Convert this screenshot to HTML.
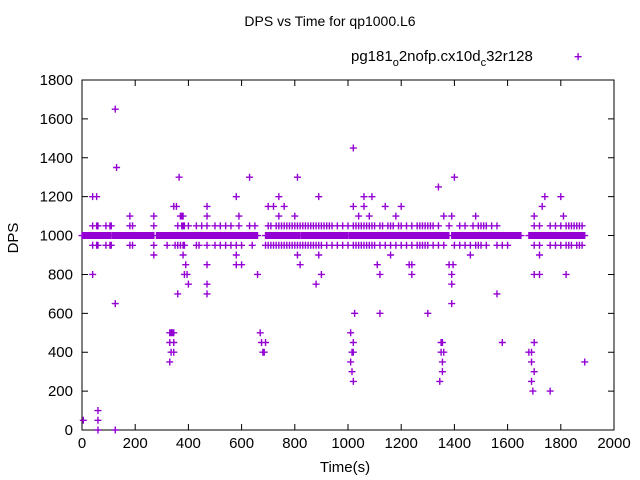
<!DOCTYPE html>
<html><head><meta charset="utf-8"><style>
body{margin:0;background:#fff}
svg{display:block;font-family:"Liberation Sans",sans-serif}
</style></head><body>
<svg id="chart" width="640" height="480">
<rect width="640" height="480" fill="#fff"/>
<text x="330" y="26" font-size="14" text-anchor="middle">DPS vs Time for qp1000.L6</text>
<text x="345" y="472" font-size="15" text-anchor="middle">Time(s)</text>
<text x="18" y="238" font-size="15" text-anchor="middle" transform="rotate(-90 18 238)">DPS</text>
<g id="axes"></g>
<g id="marks"></g>
<g>
<text x="351" y="61" font-size="15">pg181<tspan font-size="11" dy="5">o</tspan><tspan dy="-5">2nofp.cx10d</tspan><tspan font-size="11" dy="5">c</tspan><tspan dy="-5">32r128</tspan></text>
</g>
</svg>
<script>
const xTicks=[0,200,400,600,800,1000,1200,1400,1600,1800,2000];
const yTicks=[0,200,400,600,800,1000,1200,1400,1600,1800];
const bandRanges=[[0,40],[45,110],[115,200],[200,270],[280,660],[690,740],[745,820],[825,1000],[1005,1380],[1390,1650],[1680,1890]];
const t1050=[40,55,60,90,105,110,180,190,270,360,375,380,385,430,450,470,500,520,540,560,590,630,650,700,710,730,740,750,760,770,780,790,800,810,820,830,840,850,860,870,880,890,900,910,920,930,940,960,980,1000,1020,1030,1040,1050,1060,1070,1080,1090,1100,1120,1130,1150,1160,1170,1190,1200,1220,1240,1260,1270,1280,1290,1300,1310,1320,1340,1380,1420,1440,1470,1490,1500,1510,1520,1540,1560,1700,1720,1760,1780,1800,1820,1830,1840,1850,1860,1870,1880];
const t950=[40,55,60,90,105,110,180,190,270,320,350,360,370,380,385,430,440,470,500,520,540,560,580,600,640,690,700,710,720,730,740,750,760,770,780,790,800,810,820,830,840,850,860,870,880,890,900,920,940,960,980,1000,1020,1030,1040,1050,1060,1070,1080,1090,1100,1120,1140,1160,1180,1200,1220,1240,1260,1270,1280,1290,1300,1320,1340,1360,1400,1420,1440,1460,1480,1490,1500,1520,1560,1580,1600,1700,1720,1760,1780,1800,1820,1830,1840,1860,1870,1880];
const tOut=[5,40,55,40,60,60,60,125,130,125,125,180,270,270,345,355,365,370,375,380,385,390,395,400,360,380,390,400,330,335,340,345,330,345,335,345,330,470,470,470,470,470,580,580,580,590,600,630,660,670,675,680,685,690,700,720,740,740,760,800,810,810,820,880,890,890,900,1010,1020,1020,1010,1015,1020,1015,1020,1025,1020,1020,1020,1040,1060,1060,1080,1090,1110,1120,1120,1140,1160,1180,1200,1230,1240,1240,1300,1350,1350,1360,1355,1355,1345,1355,1360,1340,1380,1390,1390,1390,1390,1395,1400,1460,1480,1560,1580,1680,1690,1700,1690,1695,1700,1690,1700,1700,1720,1720,1730,1740,1760,1800,1810,1820,1865,1890];
const vOut=[50,1200,1200,800,100,50,0,1650,1350,650,0,1100,1100,900,1150,1150,1300,1100,1100,900,800,850,800,750,700,1100,850,1050,500,500,500,500,450,450,400,400,350,1150,850,750,700,1100,1200,850,900,1100,850,1300,800,500,450,400,400,450,1150,1150,1200,1100,1150,1100,1300,900,850,750,1200,900,800,500,450,400,350,300,250,400,1450,600,400,250,1150,1100,1200,1150,1100,1200,850,600,800,1150,900,1100,1150,850,850,800,600,450,400,400,350,300,250,450,1100,1250,850,800,750,650,1100,850,1300,900,1100,700,450,400,350,300,250,200,450,400,1100,800,900,800,1150,1200,200,1200,1100,800,1920,350];
const x0=82,x1=614,y0=430,y1=80;
function xs(t){return x0+(t-0)/(2000-0)*(x1-x0);}
function ys(v){return y0-(v-0)/(1800-0)*(y0-y1);}
const NS="http://www.w3.org/2000/svg";
const axes=document.getElementById('axes'),marks=document.getElementById('marks');
function mk(tag,attrs,parent){const e=document.createElementNS(NS,tag);for(const k in attrs)e.setAttribute(k,attrs[k]);parent.appendChild(e);return e;}
const frame=mk('rect',{x:x0,y:y1,width:x1-x0,height:y0-y1,fill:'none',stroke:'#000','stroke-width':1},axes);


xTicks.forEach(t=>{const x=xs(t);
 const l=mk('path',{d:`M${x} ${y0}v-6M${x} ${y1}v6`,stroke:'#000'},axes);
 
 
 const tx=mk('text',{x:x,y:y0+18,'font-size':15,'text-anchor':'middle'},axes);tx.textContent=t;
 
 });
yTicks.forEach(v=>{const y=ys(v);
 const l=mk('path',{d:`M${x0} ${y}h6M${x1} ${y}h-6`,stroke:'#000'},axes);
 
 
 const tx=mk('text',{x:x0-9,y:y+5,'font-size':15,'text-anchor':'end'},axes);tx.textContent=v;
 
 });
let d='';
function plus(t,v){const x=xs(t),y=ys(v);d+=`M${x-3.5} ${y}h7M${x} ${y-3.5}v7`;}
bandRanges.forEach(r=>{for(let t=r[0];t<=r[1];t+=2)plus(t,1000);});
t1050.forEach(t=>plus(t,1050));
t950.forEach(t=>plus(t,950));
tOut.forEach((t,i)=>plus(t,vOut[i]));
const p=mk('path',{d:d,stroke:'#9400d3','stroke-width':1.4,fill:'none'},marks);


</script>
</body></html>
